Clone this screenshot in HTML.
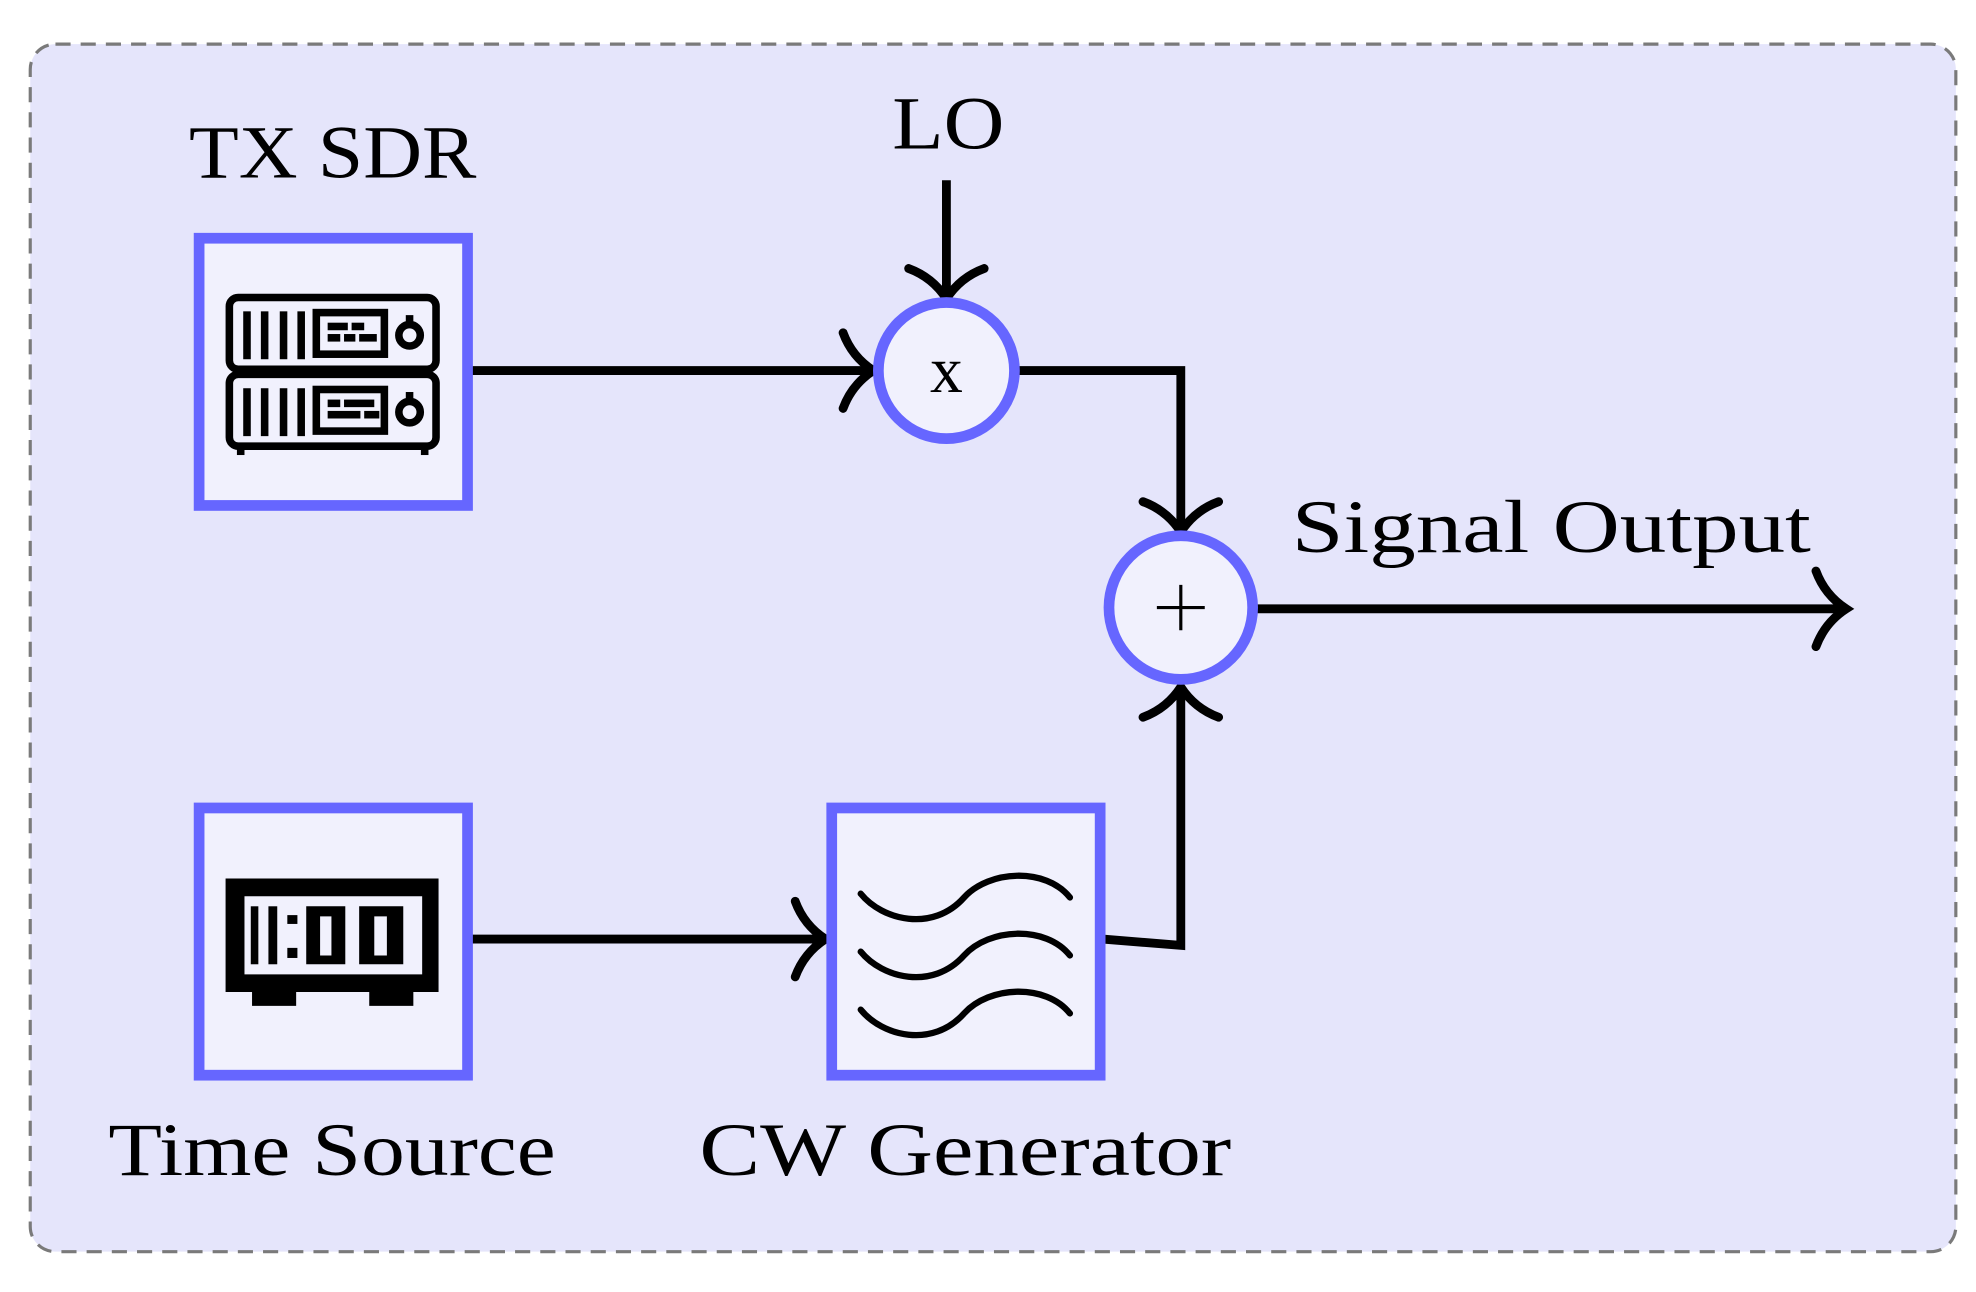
<!DOCTYPE html>
<html><head><meta charset="utf-8"><style>
html,body{margin:0;padding:0;background:#fff;}
svg{display:block;}
text{font-family:"Liberation Serif",serif;fill:#000;}
</style></head><body>
<svg width="1976" height="1292" viewBox="0 0 1568 1025" preserveAspectRatio="none" xmlns="http://www.w3.org/2000/svg">
<defs>
<g id="ah"><path d="M-24,-30 Q-17,-11 0,0 Q-17,11 -24,30" fill="none" stroke="#000" stroke-width="7" stroke-linecap="round"/></g>
</defs>
<rect x="24" y="35" width="1528" height="958" rx="20" fill="#e5e5fb" stroke="#7a7a7a" stroke-width="2.5" stroke-dasharray="12,8"/>

<g stroke="#000" stroke-width="7" fill="none">
<path d="M373,294 H693"/>
<path d="M751,143 V237"/>
<path d="M807,294 H937 V422"/>
<path d="M875,745 L937,750 V545"/>
<path d="M995,483 H1465"/>
<path d="M373,745 H655"/>
</g>
<use href="#ah" transform="translate(693,294)"/>
<use href="#ah" transform="translate(751,237) rotate(90)"/>
<use href="#ah" transform="translate(937,422) rotate(90)"/>
<use href="#ah" transform="translate(937,545) rotate(-90)"/>
<use href="#ah" transform="translate(1465,483)"/>
<use href="#ah" transform="translate(655,745)"/>

<g fill="#f1f1fd" stroke="#6666ff" stroke-width="8.5">
<rect x="158" y="189" width="213" height="212"/>
<rect x="158" y="641" width="213" height="212"/>
<rect x="660" y="641" width="213" height="212"/>
<circle cx="751" cy="294" r="54"/>
<circle cx="937" cy="482" r="57"/>
</g>
<text x="751" y="311" font-size="52" text-anchor="middle">x</text>
<g stroke="#000" stroke-width="2.5"><path d="M937,464 V500 M918,482 H956"/></g>

<g fill="none" stroke="#000" stroke-width="6">
<rect x="182" y="236" width="164" height="57" rx="7"/>
<rect x="182" y="297" width="164" height="57" rx="7"/>
<rect x="251" y="248" width="54" height="33"/>
<rect x="251" y="309" width="54" height="33"/>
<circle cx="325" cy="266" r="8.5"/>
<circle cx="325" cy="327" r="8.5"/>
</g>
<g fill="#000">
<rect x="193" y="247" width="6" height="38"/>
<rect x="207" y="247" width="6" height="38"/>
<rect x="222" y="247" width="6" height="38"/>
<rect x="236" y="247" width="6" height="38"/>
<rect x="193" y="308" width="6" height="38"/>
<rect x="207" y="308" width="6" height="38"/>
<rect x="222" y="308" width="6" height="38"/>
<rect x="236" y="308" width="6" height="38"/>
<rect x="260" y="256" width="16" height="6"/><rect x="279" y="256" width="10" height="6"/>
<rect x="260" y="265" width="10" height="6"/><rect x="273" y="265" width="9" height="6"/><rect x="285" y="265" width="14" height="6"/>
<rect x="260" y="317" width="10" height="6"/><rect x="273" y="317" width="24" height="6"/>
<rect x="260" y="326" width="26" height="6"/><rect x="289" y="326" width="12" height="6"/>
<rect x="322" y="250" width="6" height="7"/><rect x="322" y="311" width="6" height="7"/>
<rect x="188" y="292" width="6" height="7"/><rect x="334" y="292" width="6" height="7"/>
<rect x="188" y="353" width="6" height="8"/><rect x="334" y="353" width="6" height="8"/>
</g>

<g fill="#000">
<path fill-rule="evenodd" d="M179,697 H348 V787 H179 Z M194,711 V773 H335 V711 Z"/>
<rect x="200" y="787" width="35" height="11"/>
<rect x="293" y="787" width="35" height="11"/>
<rect x="199" y="719" width="6" height="46"/>
<rect x="213" y="719" width="7" height="46"/>
<rect x="228" y="726" width="8" height="7"/><rect x="228" y="752" width="8" height="8"/>
<path fill-rule="evenodd" d="M243,719 H274 V765 H243 Z M254,727 V758 H263 V727 Z"/>
<path fill-rule="evenodd" d="M285,719 H320 V765 H285 Z M297,727 V758 H307 V727 Z"/>
</g>

<g fill="none" stroke="#000" stroke-width="5" stroke-linecap="round">
<path d="M683,709 C700,730 740,740 765,712 C785,690 830,688 849,712"/>
<path d="M683,755 C700,776 740,786 765,758 C785,736 830,734 849,758"/>
<path d="M683,801 C700,822 740,832 765,804 C785,782 830,780 849,804"/>
</g>

<text x="708" y="118" font-size="60" textLength="89" lengthAdjust="spacingAndGlyphs">LO</text>
<text x="150" y="141" font-size="60" textLength="228" lengthAdjust="spacingAndGlyphs">TX SDR</text>
<text x="1025" y="438" font-size="60" textLength="412" lengthAdjust="spacingAndGlyphs">Signal Output</text>
<text x="86" y="932" font-size="60" textLength="355" lengthAdjust="spacingAndGlyphs">Time Source</text>
<text x="555" y="932" font-size="60" textLength="422" lengthAdjust="spacingAndGlyphs">CW Generator</text>
</svg>
</body></html>
